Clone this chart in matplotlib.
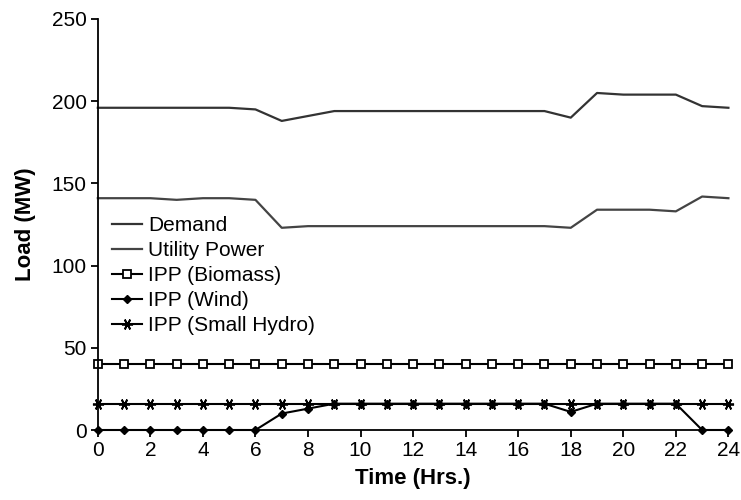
import numpy as np
import matplotlib.pyplot as plt

plt.rcParams['font.family'] = ['Liberation Sans', 'DejaVu Sans']

hours = list(range(25))
demand = [196, 196, 196, 196, 196, 196, 195, 188, 191, 194, 194, 194, 194, 194,
          194, 194, 194, 194, 190, 205, 204, 204, 204, 197, 196]
utility = [141, 141, 141, 140, 141, 141, 140, 123, 124, 124, 124, 124, 124, 124,
           124, 124, 124, 124, 123, 134, 134, 134, 133, 142, 141]
biomass = [40] * 25
wind = [0, 0, 0, 0, 0, 0, 0, 10, 13, 16, 16, 16, 16, 16,
        16, 16, 16, 16, 11, 16, 16, 16, 16, 0, 0]
hydro = [16] * 25

fig, ax = plt.subplots(figsize=(7.41, 5.0), dpi=100)
fig.subplots_adjust(left=0.132, right=0.983, bottom=0.14, top=0.962)

ax.plot(hours, demand, color='#333333', lw=1.6, label='Demand', clip_on=False)
ax.plot(hours, utility, color='#444444', lw=1.6, label='Utility Power', clip_on=False)
ax.plot(hours, biomass, color='black', lw=1.5, marker='s', ms=5.5,
        mfc='white', mec='black', mew=1.3, label='IPP (Biomass)', clip_on=False)
ax.plot(hours, wind, color='black', lw=1.5, marker='D', ms=4.5,
        label='IPP (Wind)', clip_on=False, zorder=4)
ax.plot(hours, hydro, color='black', lw=1.5, marker=(6, 2, 90), ms=8,
        mew=1.3, label='IPP (Small Hydro)', clip_on=False)

ax.set_xlim(0, 24)
ax.set_ylim(0, 250)
ax.set_xticks(range(0, 25, 2))
ax.set_yticks(range(0, 251, 50))
ax.spines['top'].set_visible(False)
ax.spines['right'].set_visible(False)
ax.spines['left'].set_linewidth(1.3)
ax.spines['bottom'].set_linewidth(1.3)
ax.tick_params(labelsize=15, width=1.3, length=5, direction='out', colors='black',
               pad=3)

ax.set_xlabel('Time (Hrs.)', fontsize=16, fontweight='bold', labelpad=6)
ax.set_ylabel('Load (MW)', fontsize=16, fontweight='bold', labelpad=11)

ax.legend(loc='upper left', bbox_to_anchor=(0.0, 0.555), frameon=False,
          fontsize=15, handlelength=1.4, handletextpad=0.3, labelspacing=0.28,
          borderpad=0.2)

plt.savefig('out.png', dpi=100)
